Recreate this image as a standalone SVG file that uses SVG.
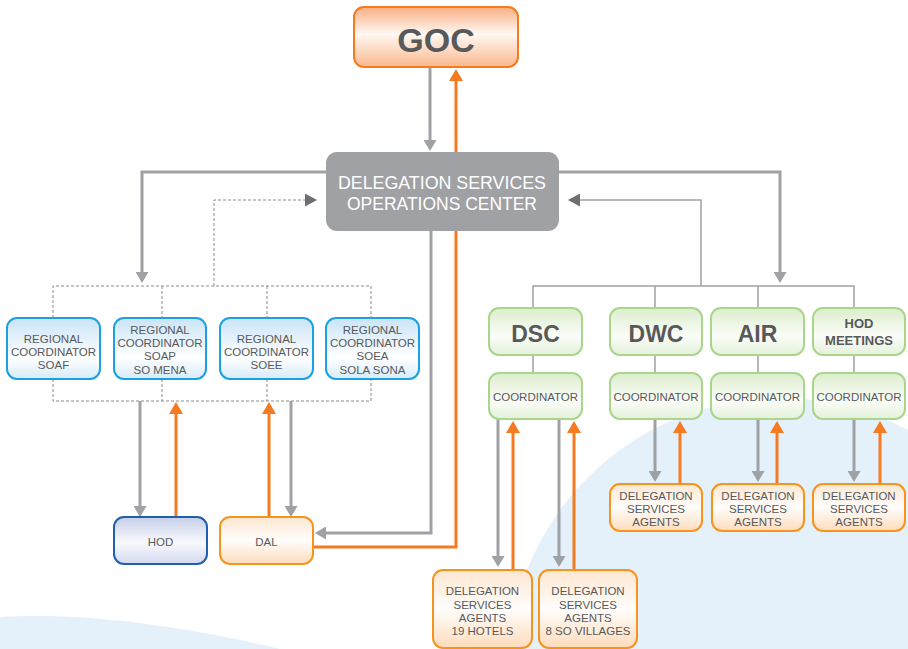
<svg xmlns="http://www.w3.org/2000/svg" width="908" height="649" viewBox="0 0 908 649">
<defs>
<linearGradient id="gOrg" x1="0" y1="0" x2="0" y2="1"><stop offset="0" stop-color="#f9ae82"/><stop offset="0.45" stop-color="#fff8f2"/><stop offset="1" stop-color="#fbb88e"/></linearGradient>
<linearGradient id="gBlue" x1="0" y1="0" x2="0" y2="1"><stop offset="0" stop-color="#c9e4f6"/><stop offset="0.65" stop-color="#ffffff"/><stop offset="1" stop-color="#d6ebf9"/></linearGradient>
<linearGradient id="gGreen" x1="0" y1="0" x2="0" y2="1"><stop offset="0" stop-color="#dcedcd"/><stop offset="0.6" stop-color="#fbfdf8"/><stop offset="1" stop-color="#e4f1da"/></linearGradient>
<linearGradient id="gHod" x1="0" y1="0" x2="0" y2="1"><stop offset="0" stop-color="#c7cfea"/><stop offset="0.55" stop-color="#f8f9fd"/><stop offset="1" stop-color="#d3d9ef"/></linearGradient>
<linearGradient id="gPeach" x1="0" y1="0" x2="0" y2="1"><stop offset="0" stop-color="#fde7d1"/><stop offset="0.5" stop-color="#fffdfb"/><stop offset="1" stop-color="#fddcbc"/></linearGradient>
<marker id="aG" viewBox="0 0 11 13" refX="8" refY="6.5" markerWidth="11" markerHeight="13" markerUnits="userSpaceOnUse" orient="auto"><path d="M0,0 L11,6.5 L0,13 z" fill="#a0a1a4"/></marker>
<marker id="aO" viewBox="0 0 12 14" refX="9" refY="7" markerWidth="12" markerHeight="14" markerUnits="userSpaceOnUse" orient="auto"><path d="M0,0 L12,7 L0,14 z" fill="#f47b20"/></marker>
<marker id="aD" viewBox="0 0 12 13" refX="11" refY="6.5" markerWidth="12" markerHeight="13" markerUnits="userSpaceOnUse" orient="auto"><path d="M0,0 L12,6.5 L0,13 z" fill="#6d6e71"/></marker>
</defs>
<style>
.t{font-family:"Liberation Sans",Arial,sans-serif;fill:#58595b;text-anchor:middle;font-size:11.5px}
.b{font-weight:bold}
.w{fill:#ffffff;font-size:18px}
.gr{fill:none;stroke:#a0a1a4;stroke-width:3}
.or{fill:none;stroke:#f47b20;stroke-width:3}
.th{fill:none;stroke:#a0a1a4;stroke-width:1.5}
.ds{fill:none;stroke:#8a8b8d;stroke-width:1;stroke-dasharray:3 2}
.rb{fill:url(#gBlue);stroke:#1ba1e2;stroke-width:2}
.gb{fill:url(#gGreen);stroke:#a9d58c;stroke-width:2}
.ob{fill:url(#gPeach);stroke:#f7941d;stroke-width:2}
</style>
<rect width="908" height="649" fill="#ffffff"/>
<g id="background">
<circle cx="780" cy="670" r="272" fill="#e4f0fa"/>
<path d="M0,617 C80,612 180,625 280,649 L0,649 z" fill="#e4f0fa"/>
</g>
<g id="connectors">
<path class="gr" d="M430,67 L430,148" marker-end="url(#aG)"/>
<path class="or" d="M313,547 L456,547 L456,72" marker-end="url(#aO)"/>
<path class="gr" d="M326,172 L142,172 L142,280" marker-end="url(#aG)"/>
<path class="gr" d="M559,172 L780,172 L780,280" marker-end="url(#aG)"/>
<path class="gr" d="M431,231 L431,533 L318,533" marker-end="url(#aG)"/>
<path class="ds" d="M214,286 L214,200 L316,200" marker-end="url(#aD)"/>
<path class="th" d="M701,286 L701,200 L569,200" marker-end="url(#aD)"/>
<path class="ds" d="M53,318 L53,286 L371,286 L371,318 M162,286 L162,318 M267,286 L267,318 M53,379 L53,401 L371,401 L371,379 M162,379 L162,401 M267,379 L267,401"/>
<path class="th" d="M533,308 L533,286 L854,286 L854,308 M655,286 L655,308 M758,286 L758,308 M533,355 L533,373 M655,355 L655,373 M758,355 L758,373 M854,355 L854,373"/>
<path class="gr" d="M140,401 L140,514" marker-end="url(#aG)"/>
<path class="or" d="M176,517 L176,405" marker-end="url(#aO)"/>
<path class="or" d="M269,517 L269,405" marker-end="url(#aO)"/>
<path class="gr" d="M291,401 L291,514" marker-end="url(#aG)"/>
<path class="gr" d="M498,419 L498,564" marker-end="url(#aG)"/>
<path class="or" d="M513,570 L513,424" marker-end="url(#aO)"/>
<path class="gr" d="M559,419 L559,564" marker-end="url(#aG)"/>
<path class="or" d="M574,570 L574,424" marker-end="url(#aO)"/>
<path class="gr" d="M655,419 L655,479" marker-end="url(#aG)"/>
<path class="or" d="M680,484 L680,424" marker-end="url(#aO)"/>
<path class="gr" d="M758,419 L758,479" marker-end="url(#aG)"/>
<path class="or" d="M777,484 L777,424" marker-end="url(#aO)"/>
<path class="gr" d="M854,419 L854,479" marker-end="url(#aG)"/>
<path class="or" d="M880,484 L880,424" marker-end="url(#aO)"/>
</g>
<g id="goc"><rect x="354" y="7" width="164" height="60" rx="10" fill="url(#gOrg)" stroke="#f47b20" stroke-width="2"/><text class="t b" x="436" y="52" style="font-size:34px">GOC</text></g>
<g id="dsoc"><rect x="326" y="152" width="233" height="79" rx="11" fill="#a0a1a4"/><text class="t w" x="442" y="189" textLength="208" lengthAdjust="spacingAndGlyphs">DELEGATION SERVICES</text><text class="t w" x="442" y="210" textLength="190" lengthAdjust="spacingAndGlyphs">OPERATIONS CENTER</text></g>
<g id="rc-soaf"><rect class="rb" x="7" y="318" width="93" height="61" rx="10"/><text class="t" x="53.5" y="342.5">REGIONAL</text><text class="t" x="53.5" y="356">COORDINATOR</text><text class="t" x="53.5" y="369">SOAF</text></g>
<g id="rc-soap"><rect class="rb" x="114" y="318" width="92" height="61" rx="10"/><text class="t" x="160" y="334">REGIONAL</text><text class="t" x="160" y="347">COORDINATOR</text><text class="t" x="160" y="360">SOAP</text><text class="t" x="160" y="374">SO MENA</text></g>
<g id="rc-soee"><rect class="rb" x="220" y="318" width="93" height="61" rx="10"/><text class="t" x="266.5" y="342.5">REGIONAL</text><text class="t" x="266.5" y="356">COORDINATOR</text><text class="t" x="266.5" y="369">SOEE</text></g>
<g id="rc-soea"><rect class="rb" x="326" y="318" width="93" height="61" rx="10"/><text class="t" x="372.5" y="334">REGIONAL</text><text class="t" x="372.5" y="347">COORDINATOR</text><text class="t" x="372.5" y="360">SOEA</text><text class="t" x="372.5" y="374">SOLA SONA</text></g>
<g id="hod"><rect x="114" y="517" width="93" height="47" rx="10" fill="url(#gHod)" stroke="#1f5fae" stroke-width="2"/><text class="t" x="160.5" y="545.5">HOD</text></g>
<g id="dal"><rect class="ob" x="220" y="517" width="93" height="47" rx="10"/><text class="t" x="266.5" y="545.5">DAL</text></g>
<g id="dsc"><rect class="gb" x="489" y="308" width="93" height="47" rx="10"/><text class="t b" x="535.5" y="342" style="font-size:23px">DSC</text></g>
<g id="dwc"><rect class="gb" x="610" y="308" width="92" height="47" rx="10"/><text class="t b" x="656" y="342" style="font-size:23px">DWC</text></g>
<g id="air"><rect class="gb" x="711" y="308" width="93" height="47" rx="10"/><text class="t b" x="757.5" y="342" style="font-size:23px">AIR</text></g>
<g id="hod-meetings"><rect class="gb" x="813" y="308" width="92" height="47" rx="10"/><text class="t b" x="859" y="328" style="font-size:13px">HOD</text><text class="t b" x="859" y="345" style="font-size:13px">MEETINGS</text></g>
<g id="coord-dsc"><rect class="gb" x="489" y="373" width="93" height="46" rx="10"/><text class="t" x="535.5" y="400.5">COORDINATOR</text></g>
<g id="coord-dwc"><rect class="gb" x="610" y="373" width="92" height="46" rx="10"/><text class="t" x="656" y="400.5">COORDINATOR</text></g>
<g id="coord-air"><rect class="gb" x="711" y="373" width="93" height="46" rx="10"/><text class="t" x="757.5" y="400.5">COORDINATOR</text></g>
<g id="coord-hod"><rect class="gb" x="813" y="373" width="92" height="46" rx="10"/><text class="t" x="859" y="400.5">COORDINATOR</text></g>
<g id="agents-hotels"><rect class="ob" x="433" y="570" width="99" height="78" rx="10"/><text class="t" x="482.5" y="595">DELEGATION</text><text class="t" x="482.5" y="608.5">SERVICES</text><text class="t" x="482.5" y="621.5">AGENTS</text><text class="t" x="482.5" y="635">19 HOTELS</text></g>
<g id="agents-villages"><rect class="ob" x="539" y="570" width="98" height="78" rx="10"/><text class="t" x="588" y="595">DELEGATION</text><text class="t" x="588" y="608.5">SERVICES</text><text class="t" x="588" y="621.5">AGENTS</text><text class="t" x="588" y="635">8 SO VILLAGES</text></g>
<g id="agents-dwc"><rect class="ob" x="610" y="484" width="92" height="47" rx="10"/><text class="t" x="656" y="500">DELEGATION</text><text class="t" x="656" y="513">SERVICES</text><text class="t" x="656" y="526">AGENTS</text></g>
<g id="agents-air"><rect class="ob" x="712" y="484" width="92" height="47" rx="10"/><text class="t" x="758" y="500">DELEGATION</text><text class="t" x="758" y="513">SERVICES</text><text class="t" x="758" y="526">AGENTS</text></g>
<g id="agents-hod"><rect class="ob" x="813" y="484" width="92" height="47" rx="10"/><text class="t" x="859" y="500">DELEGATION</text><text class="t" x="859" y="513">SERVICES</text><text class="t" x="859" y="526">AGENTS</text></g>
</svg>
